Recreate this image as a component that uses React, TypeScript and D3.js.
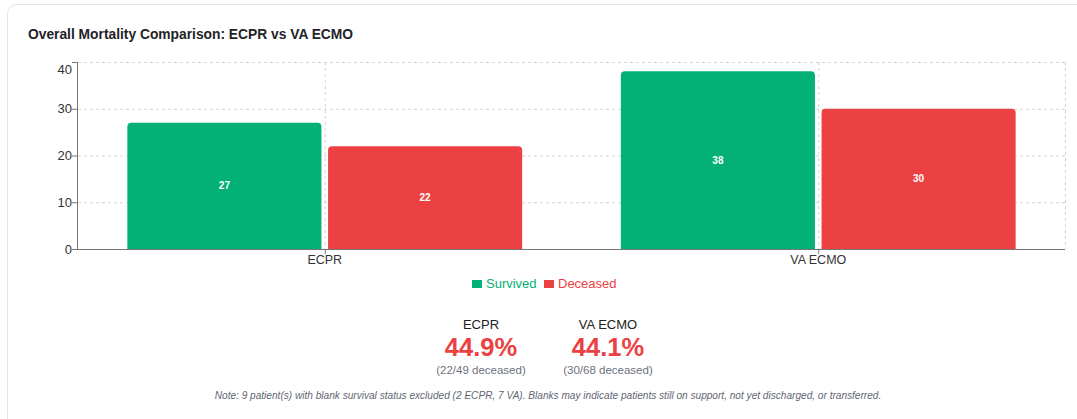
import React from "react";
import * as d3 from "d3";

const categories = ["ECPR", "VA ECMO"];
const seriesNames = ["Survived", "Deceased"];
const survived = [27, 38];
const deceased = [22, 30];
const yTicks = [0, 10, 20, 30, 40];
const statLabels = ["ECPR", "VA ECMO"];
const statPercents = ["44.9%", "44.1%"];
const statDetails = ["(22/49 deceased)", "(30/68 deceased)"];
const title = "Overall Mortality Comparison: ECPR vs VA ECMO";
const note =
  "Note: 9 patient(s) with blank survival status excluded (2 ECPR, 7 VA). Blanks may indicate patients still on support, not yet discharged, or transferred.";

const GREEN = "#03b076";
const RED = "#ec4143";
const FONT = "'Liberation Sans', Arial, Helvetica, sans-serif";

function topRoundedRect(x: number, y: number, w: number, h: number, r: number) {
  const rr = Math.min(r, h, w / 2);
  return `M${x},${y + h}L${x},${y + rr}Q${x},${y} ${x + rr},${y}L${x + w - rr},${y}Q${x + w},${y} ${x + w},${y + rr}L${x + w},${y + h}Z`;
}

export default function App() {
  const W = 1077;
  const H = 419;
  const left = 78;
  const right = 1065;
  const top = 62;
  const bottom = 249;

  const x0 = d3.scaleBand<string>().domain(categories).range([left, right]).padding(0);
  const bw = x0.bandwidth();
  const x1 = d3
    .scaleBand<string>()
    .domain(seriesNames)
    .range([bw * 0.1, bw * 0.9])
    .paddingInner(0.033)
    .paddingOuter(0);
  const y = d3.scaleLinear().domain([0, 40]).range([bottom, top]);

  const seriesValues = [survived, deceased];
  const colors = [GREEN, RED];

  const statCenters = [481, 608];

  return (
    <svg
      width={W}
      height={H}
      style={{ position: "absolute", left: 0, top: 0, display: "block" }}
      fontFamily={FONT}
    >
      <rect x={0} y={0} width={W} height={H} fill="#ffffff" />
      <rect
        x={7.5}
        y={4.5}
        width={1090}
        height={440}
        rx={9}
        fill="#ffffff"
        stroke="#e3e5ea"
        strokeWidth={1}
      />
      <text x={28} y={38.5} fontSize={13.8} fontWeight={700} fill="#1f2328">
        {title}
      </text>

      {/* grid */}
      <g stroke="#d4d4d4" strokeDasharray="3 3" strokeWidth={1}>
        {yTicks
          .filter((t) => t !== 0)
          .map((t) => (
            <line key={t} x1={left} x2={right} y1={y(t) + 0.5} y2={y(t) + 0.5} />
          ))}
        {categories.map((c) => (
          <line
            key={c}
            x1={x0(c)! + bw / 2 + 0.5}
            x2={x0(c)! + bw / 2 + 0.5}
            y1={top}
            y2={bottom}
          />
        ))}
        <line x1={right + 0.5} x2={right + 0.5} y1={top} y2={bottom} />
      </g>

      {/* bars */}
      {categories.map((c, ci) => (
        <g key={c}>
          {seriesNames.map((s, si) => {
            const v = seriesValues[si][ci];
            const bx = x0(c)! + x1(s)!;
            const bwid = x1.bandwidth();
            const by = y(v);
            return (
              <g key={s}>
                <path d={topRoundedRect(bx, by, bwid, bottom - by, 4)} fill={colors[si]} />
                <text
                  x={bx + bwid / 2}
                  y={(by + bottom) / 2}
                  dy="0.35em"
                  textAnchor="middle"
                  fontSize={10}
                  fontWeight={700}
                  fill="#ffffff"
                >
                  {v}
                </text>
              </g>
            );
          })}
        </g>
      ))}

      {/* y axis */}
      <g>
        <line x1={left - 0.5} x2={left - 0.5} y1={top} y2={bottom} stroke="#777" />
        {yTicks.map((t) => (
          <g key={t}>
            <line x1={left - 6} x2={left} y1={y(t) + 0.5} y2={y(t) + 0.5} stroke="#777" />
            <text
              x={left - 6}
              y={Math.max(y(t), top + 7)}
              dy="0.36em"
              textAnchor="end"
              fontSize={13}
              fill="#333"
            >
              {t}
            </text>
          </g>
        ))}
      </g>

      {/* x axis */}
      <g>
        <line x1={left} x2={right} y1={bottom + 0.5} y2={bottom + 0.5} stroke="#777" />
        {categories.map((c) => (
          <g key={c}>
            <line
              x1={x0(c)! + bw / 2 + 0.5}
              x2={x0(c)! + bw / 2 + 0.5}
              y1={bottom}
              y2={bottom + 5}
              stroke="#777"
            />
            <text
              x={x0(c)! + bw / 2}
              y={264}
              textAnchor="middle"
              fontSize={12.5}
              fill="#333"
            >
              {c}
            </text>
          </g>
        ))}
      </g>

      {/* legend */}
      <g fontSize={13}>
        <rect x={472} y={280} width={10} height={8} fill={GREEN} />
        <text x={486} y={288} fill={GREEN}>
          {seriesNames[0]}
        </text>
        <rect x={544} y={280} width={10} height={8} fill={RED} />
        <text x={558} y={288} fill={RED}>
          {seriesNames[1]}
        </text>
      </g>

      {/* stats */}
      {statLabels.map((l, i) => (
        <g key={l} textAnchor="middle">
          <text x={statCenters[i]} y={329} fontSize={13} fill="#222">
            {l}
          </text>
          <text x={statCenters[i]} y={356} fontSize={25.5} fontWeight={700} fill={RED}>
            {statPercents[i]}
          </text>
          <text x={statCenters[i]} y={374} fontSize={11.5} fill="#6b7280">
            {statDetails[i]}
          </text>
        </g>
      ))}

      <text
        x={548}
        y={399}
        textAnchor="middle"
        fontSize={10.1}
        fontStyle="italic"
        fill="#5f6673"
      >
        {note}
      </text>
    </svg>
  );
}
